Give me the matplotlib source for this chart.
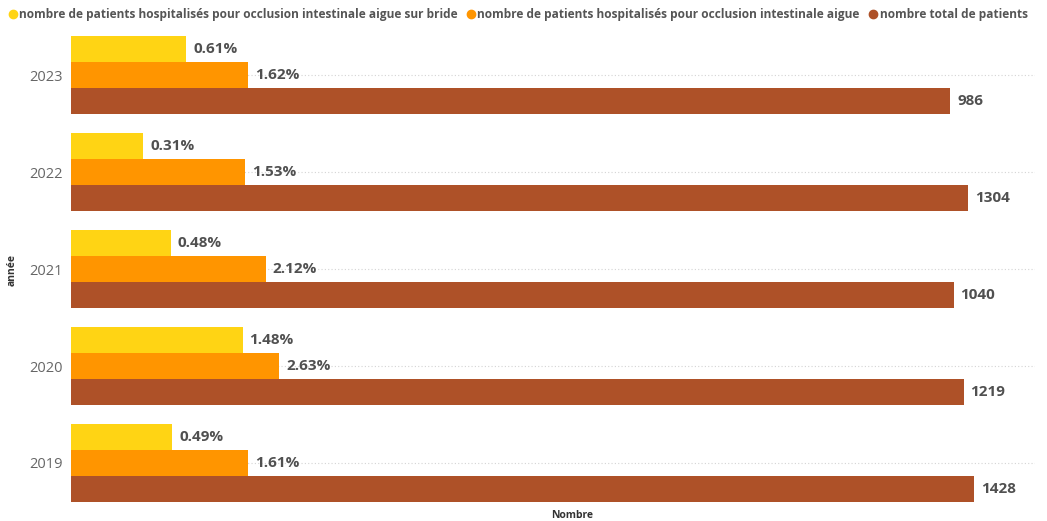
import numpy as np
import matplotlib.pyplot as plt
from matplotlib.lines import Line2D

annees = ['2019', '2020', '2021', '2022', '2023']
# parts en % du total de patients
pct_bride = [0.49, 1.48, 0.48, 0.31, 0.61]
pct_occlusion = [1.61, 2.63, 2.12, 1.53, 1.62]
total_patients = [1428, 1219, 1040, 1304, 986]

noms = ['nombre de patients hospitalisés pour occlusion intestinale aigue sur bride',
        'nombre de patients hospitalisés pour occlusion intestinale aigue',
        'nombre total de patients']
couleurs = ['#FFD414', '#FF9500', '#AE5128']

plt.rcParams['font.family'] = ['Open Sans', 'DejaVu Sans']

W, H = 1047, 521
fig = plt.figure(figsize=(W / 100, H / 100), dpi=100)
ax_l, ax_r, ax_t, ax_b = 71, 1035, 30, 505
ax = fig.add_axes([ax_l / W, 1 - ax_b / H, (ax_r - ax_l) / W, (ax_b - ax_t) / H])

y = np.arange(len(annees))
h = 26 / 97

series = [np.array(pct_bride) / 100, np.array(pct_occlusion) / 100, np.array(total_patients, dtype=float)]
textes = [[f'{v:.2f}%' for v in pct_bride],
          [f'{v:.2f}%' for v in pct_occlusion],
          [str(v) for v in total_patients]]
decal = [h, 0, -h]

for vals, txt, d, c, nom in zip(series, textes, decal, couleurs, noms):
    ax.barh(y + d, vals, height=h, color=c, label=nom, zorder=2)
    for yi, v, t in zip(y + d, vals, txt):
        ax.annotate(t, (v, yi), xytext=(5, 0), textcoords='offset points',
                    va='center', ha='left', fontsize=11, fontweight='bold', color='#505050')

# axe logarithmique, ~63.7 px par unité de ln
xmin = 0.001
ax.set_xscale('log')
ax.set_xlim(xmin, xmin * np.exp((ax_r - ax_l) / 63.7))
ax.set_ylim(-0.433, len(annees) - 1 + 0.464)

ax.set_yticks(y)
ax.set_yticklabels(annees, fontsize=10.5, color='#666666')
ax.tick_params(axis='y', length=0, pad=6)
ax.tick_params(axis='x', which='both', length=0, labelbottom=False)
for s in ax.spines.values():
    s.set_visible(False)
for yi in y:
    ax.axhline(yi, color='#d4d4d4', lw=0.8, ls=(0, (1, 2)), zorder=0)

fig.text(572 / W, 1 - 516 / H, 'Nombre', ha='center', va='center',
         fontsize=7.5, fontweight='bold', color='#333333')
fig.text(12 / W, 1 - 270 / H, 'année', ha='center', va='center', rotation=90,
         fontsize=7.5, fontweight='bold', color='#333333')

hs = [Line2D([], [], marker='o', ls='', color=c, markersize=6) for c in couleurs]
fig.legend(hs, noms, loc='upper left', bbox_to_anchor=(9 / W, 1 - 8 / H), ncol=3, frameon=False,
           handlelength=0.6, handletextpad=0.25, columnspacing=0.8, borderaxespad=0, borderpad=0,
           prop={'size': 8.6, 'weight': 'bold'}, labelcolor='#555555')

fig.savefig('out.png', dpi=100)
